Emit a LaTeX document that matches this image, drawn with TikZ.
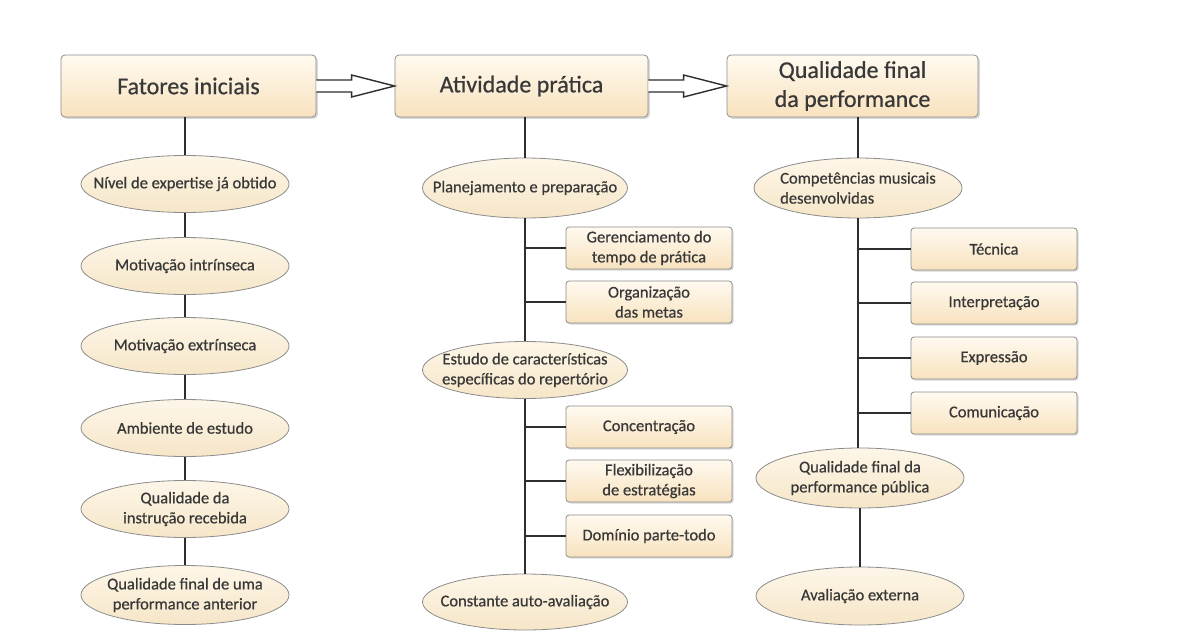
\documentclass[tikz,border=0pt]{standalone}
\usepackage{fontspec}
\setmainfont{Carlito}
\newfontfamily\diafont{Carlito}[FakeBold=0.6]
\usetikzlibrary{shapes.geometric,shadows,calc}
\definecolor{txtc}{HTML}{383838}
\definecolor{bord}{HTML}{8C8C8C}
\definecolor{linec}{HTML}{2E2E2E}
\definecolor{fillT}{HTML}{FFFAF0}
\definecolor{fillB}{HTML}{F8E2BE}
\definecolor{ellT}{HTML}{FDF6E8}
\definecolor{ellB}{HTML}{F6E6C8}
\begin{document}
\begin{tikzpicture}[x=1pt,y=-1pt,
  topbox/.style={rectangle, rounded corners=4pt, draw=bord, line width=0.8pt,
    top color=fillT, bottom color=fillB, minimum height=62pt, inner sep=0pt,
    align=center, text=txtc, font=\diafont\fontsize{24}{29}\selectfont,
    drop shadow={opacity=0.3, shadow xshift=1.8pt, shadow yshift=-1.8pt}},
  subbox/.style={rectangle, rounded corners=3pt, draw=bord, line width=0.8pt,
    top color=fillT, bottom color=fillB, minimum width=166pt, minimum height=42pt, inner sep=0pt,
    align=center, text=txtc, font=\diafont\fontsize{16.5}{20}\selectfont,
    drop shadow={opacity=0.3, shadow xshift=1.5pt, shadow yshift=-1.5pt}},
  ell/.style={ellipse, draw=bord, line width=0.8pt, top color=ellT, bottom color=ellB,
    minimum width=208pt, minimum height=57pt, inner sep=0pt},
  lbl/.style={align=center, text=txtc, font=\diafont\fontsize{16.5}{20}\selectfont, inner sep=0pt},
  conn/.style={draw=linec, line width=1.8pt},
  hollow/.style={draw=linec, line width=1.4pt, fill=white, line join=miter}
]
\useasboundingbox[fill=white] (0,0) rectangle (1203,632);

% top boxes
\node[topbox, minimum width=255pt] (b1) at (188.5,86) {Fatores iniciais};
\node[topbox, minimum width=253pt] (b2) at (521.5,86) {Atividade prática};
\node[topbox, minimum width=251pt] (b3) at (852.5,86) {Qualidade final\\da performance};

% hollow arrows
\foreach \a/\b in {b1/b2, b2/b3}{
  \filldraw[hollow] ($(\a.east)+(0,6pt)$) -- ($(\b.west)+(-43pt,6pt)$) -- ($(\b.west)+(-43pt,11pt)$)
    -- (\b.west) -- ($(\b.west)+(-43pt,-11pt)$) -- ($(\b.west)+(-43pt,-6pt)$) -- ($(\a.east)+(0,-6pt)$);
}

% column 1
\node[ell] (e1) at (185,184) {};
\node[lbl] at (e1) {Nível de expertise já obtido};
\node[ell] (e2) at (185,266) {};
\node[lbl] at (e2) {Motivação intrínseca};
\node[ell] (e3) at (185,346) {};
\node[lbl] at (e3) {Motivação extrínseca};
\node[ell] (e4) at (185,428) {};
\node[lbl] at (e4) {Ambiente de estudo};
\node[ell] (e5) at (185,509) {};
\node[lbl] at (e5) {Qualidade da\\instrução recebida};
\node[ell, minimum height=59pt] (e6) at (185,595) {};
\node[lbl] at (e6) {Qualidade final de uma\\performance anterior};

\draw[conn] (b1.south -| e1.north) -- (e1.north);
\draw[conn] (e1.south) -- (e2.north);
\draw[conn] (e2.south) -- (e3.north);
\draw[conn] (e3.south) -- (e4.north);
\draw[conn] (e4.south) -- (e5.north);
\draw[conn] (e5.south) -- (e6.north);

% column 2
\node[ell, minimum width=205pt, minimum height=60pt] (p1) at (525,188) {};
\node[lbl] at (p1) {Planejamento e preparação};
\node[subbox] (r1) at (649,248) {Gerenciamento do\\tempo de prática};
\node[subbox] (r2) at (649,302) {Organização\\das metas};
\node[ell, minimum width=205pt, minimum height=57pt] (p2) at (525,370) {};
\node[lbl] at (p2) {Estudo de características\\específicas do repertório};
\node[subbox] (r3) at (649,427) {Concentração};
\node[subbox] (r4) at (649,481) {Flexibilização\\de estratégias};
\node[subbox] (r5) at (649,536) {Domínio parte-todo};
\node[ell, minimum width=205pt, minimum height=56pt] (p3) at (525,602) {};
\node[lbl] at (p3) {Constante auto-avaliação};

\draw[conn] (b2.south -| p1.north) -- (p1.north);
\draw[conn] (p1.south) -- (p2.north);
\draw[conn] (p2.south) -- (p3.north);
\foreach \r in {r1,r2,r3,r4,r5}{ \draw[conn] (\r.west) -- (\r.west -| p1.south); }

% column 3
\node[ell, minimum width=208pt, minimum height=60pt] (q1) at (858,188) {};
\node[lbl, align=left] at (q1) {Competências musicais\\desenvolvidas};
\node[subbox] (s1) at (994,249) {Técnica};
\node[subbox] (s2) at (994,303) {Interpretação};
\node[subbox] (s3) at (994,358) {Expressão};
\node[subbox] (s4) at (994,413) {Comunicação};
\node[ell, minimum width=208pt, minimum height=60pt] (q2) at (860,478) {};
\node[lbl] at (q2) {Qualidade final da\\performance pública};
\node[ell, minimum width=208pt, minimum height=58pt] (q3) at (860,596) {};
\node[lbl] at (q3) {Avaliação externa};

\draw[conn] (b3.south -| q1.north) -- (q1.north);
\draw[conn] (q1.south) -- (q1.south |- q2.north);
\draw[conn] (q2.south) -- (q3.north);
\foreach \r in {s1,s2,s3,s4}{ \draw[conn] (\r.west) -- (\r.west -| q1.south); }
\end{tikzpicture}
\end{document}
